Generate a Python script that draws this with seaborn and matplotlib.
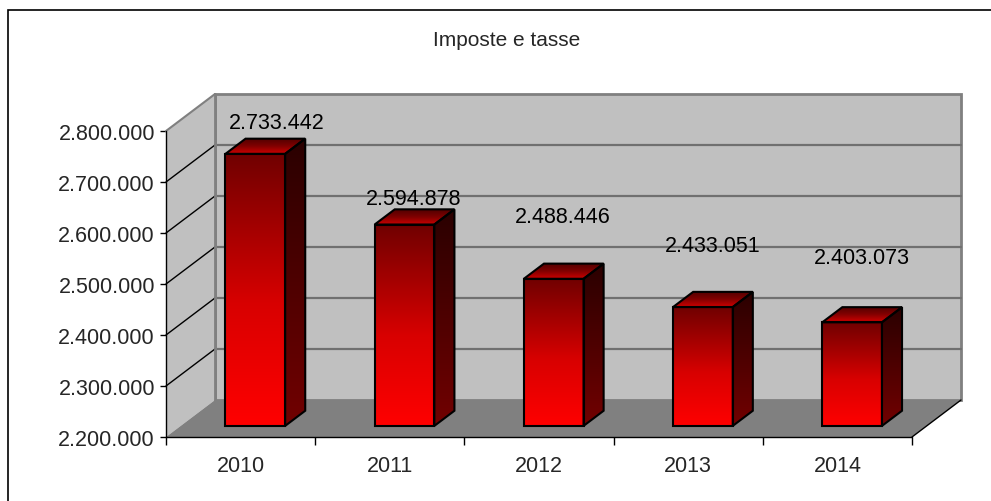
import numpy as np
import pandas as pd
import seaborn as sns
import matplotlib
matplotlib.use("Agg")
from matplotlib import pyplot as plt
from matplotlib.patches import Polygon, Rectangle
from matplotlib.colors import LinearSegmentedColormap

# data
anni = ["2010", "2011", "2012", "2013", "2014"]
imposte = [2733442, 2594878, 2488446, 2433051, 2403073]
# how far above each bar excel put its label (value units)
label_lift = [84000, 73000, 144000, 143000, 148000]
label_dx = [12, 0, 0, 0, 0]  # px

titolo = "Imposte e tasse"
y_min, y_max, y_step = 2200000, 2800000, 100000

sns.set_theme(style="white")
plt.rcParams["font.family"] = ["Liberation Sans", "DejaVu Sans"]
FS = 15.5

W, H = 991, 502
fig = plt.figure(figsize=(W / 100, H / 100), dpi=100)
fig.patch.set_facecolor("white")

# front plane of the 3d box, in pixels
left, right, bottom, top = 166, 912, 438, 132
ax = fig.add_axes([left / W, 1 - bottom / H, (right - left) / W, (bottom - top) / H])

df = pd.DataFrame({"anno": anni, "imposte": imposte})
sns.barplot(data=df, x="anno", y="imposte", width=0.4, ax=ax,
            facecolor="none", edgecolor="black", linewidth=1.5, zorder=10)
bars = [p for p in ax.patches if isinstance(p, Rectangle)]

ax.set_xlim(-0.5, len(anni) - 0.5)
ax.set_ylim(y_min, y_max)
ax.set_facecolor("none")
for s in ax.spines.values():
    s.set_visible(False)


def px(dx, dy):
    # pixel offset -> data offset
    inv = ax.transData.inverted()
    a = inv.transform((0, 0))
    b = inv.transform((dx, dy))
    return b - a


D = px(49, 37)          # depth of the whole box
S = 0.30 * D            # bars start a bit into the box
BD = 0.41 * D           # bar depth

x0, x1 = -0.5, len(anni) - 0.5

# walls & floor
back = Polygon([(x0 + D[0], y_min + D[1]), (x1 + D[0], y_min + D[1]),
                (x1 + D[0], y_max + D[1]), (x0 + D[0], y_max + D[1])],
               closed=True, facecolor="#c0c0c0", edgecolor="#808080", lw=2,
               clip_on=False, zorder=1)
side = Polygon([(x0, y_min), (x0 + D[0], y_min + D[1]),
                (x0 + D[0], y_max + D[1]), (x0, y_max)],
               closed=True, facecolor="#c0c0c0", edgecolor="none",
               clip_on=False, zorder=1)
floor = Polygon([(x0, y_min), (x1, y_min), (x1 + D[0], y_min + D[1]), (x0 + D[0], y_min + D[1])],
                closed=True, facecolor="#808080", edgecolor="none",
                clip_on=False, zorder=2)
for p in (back, side, floor):
    ax.add_patch(p)

grid_vals = np.arange(y_min, y_max + 1, y_step)
for v in grid_vals[1:-1]:
    ax.plot([x0 + D[0], x1 + D[0]], [v + D[1], v + D[1]], color="#707070", lw=1.6,
            clip_on=False, zorder=3)
    ax.plot([x0, x0 + D[0]], [v, v + D[1]], color="black", lw=1, clip_on=False, zorder=3)
ax.plot([x0, x0 + D[0]], [y_max, y_max + D[1]], color="#808080", lw=1.5, clip_on=False, zorder=3)
ax.plot([x0 + D[0], x0 + D[0]], [y_min + D[1], y_max + D[1]], color="#808080", lw=2, clip_on=False, zorder=3)
ax.plot([x1, x1 + D[0]], [y_min, y_min + D[1]], color="black", lw=1, clip_on=False, zorder=3)
ax.plot([x0, x0], [y_min, y_max], color="black", lw=1, clip_on=False, zorder=12)
ax.plot([x0, x1], [y_min, y_min], color="black", lw=1, clip_on=False, zorder=12)

cm_front = LinearSegmentedColormap.from_list("front", [(0, "#ff0000"), (0.45, "#d80000"), (1, "#700000")])
cm_side = LinearSegmentedColormap.from_list("side", ["#720000", "#2a0000"])
cm_top = LinearSegmentedColormap.from_list("top", ["#d00000", "#800000", "#500000"])
grad = np.linspace(0, 1, 256).reshape(-1, 1)


def fill_grad(poly, cmap, ext, z):
    im = ax.imshow(grad, cmap=cmap, origin="lower", extent=ext, aspect="auto",
                   interpolation="bilinear", zorder=z)
    im.set_clip_path(poly)


for i, bar in enumerate(bars):
    val = bar.get_height()
    bx0 = bar.get_x() + S[0]
    bx1 = bx0 + bar.get_width()
    by0 = y_min + S[1]
    by1 = val + S[1]
    bar.set_x(bx0)
    bar.set_y(by0)
    bar.set_height(by1 - by0)
    bar.set_zorder(10)
    fill_grad(bar, cm_front, (bx0, bx1, by0, by1), 5)

    sp = Polygon([(bx1, by0), (bx1 + BD[0], by0 + BD[1]), (bx1 + BD[0], by1 + BD[1]), (bx1, by1)],
                 closed=True, facecolor="none", edgecolor="black", lw=1.5, zorder=10)
    ax.add_patch(sp)
    fill_grad(sp, cm_side, (bx1, bx1 + BD[0], by0, by1 + BD[1]), 5)

    tp = Polygon([(bx0, by1), (bx1, by1), (bx1 + BD[0], by1 + BD[1]), (bx0 + BD[0], by1 + BD[1])],
                 closed=True, facecolor="none", edgecolor="black", lw=1.5, zorder=10)
    ax.add_patch(tp)
    fill_grad(tp, cm_top, (bx0, bx1 + BD[0], by1, by1 + BD[1]), 5)

    lx = i + px(24 + label_dx[i], 0)[0]
    ax.text(lx, val + label_lift[i], f"{val:,.0f}".replace(",", "."), ha="center", va="center",
            fontsize=FS, color="black", zorder=20)

ax.set_xlim(-0.5, len(anni) - 0.5)
ax.set_ylim(y_min, y_max)

# ticks
ax.set_yticks(grid_vals)
ax.set_yticklabels([f"{v:,.0f}".replace(",", ".") for v in grid_vals], fontsize=FS)
ax.set_xticks(range(len(anni)))
ax.set_xticklabels(anni, fontsize=FS)
ax.set_xticks(np.arange(-0.5, len(anni)), minor=True)
ax.tick_params(axis="x", which="major", length=0, pad=13)
ax.tick_params(axis="x", which="minor", length=6, width=1, color="black", direction="out", bottom=True)
ax.tick_params(axis="y", length=4.5, width=1, color="black", direction="out", pad=3.5, left=True)
ax.set_xlabel("")
ax.set_ylabel("")
ax.grid(False)

fig.text(507 / W, 1 - 40 / H, titolo, ha="center", va="center", fontsize=15)

# outer chart frame
fig.add_artist(Rectangle((8 / W, -0.1), 1.2, 1.1 - 11 / H, transform=fig.transFigure,
                         fill=False, edgecolor="black", lw=1.2))

fig.savefig("out.png", dpi=100)
